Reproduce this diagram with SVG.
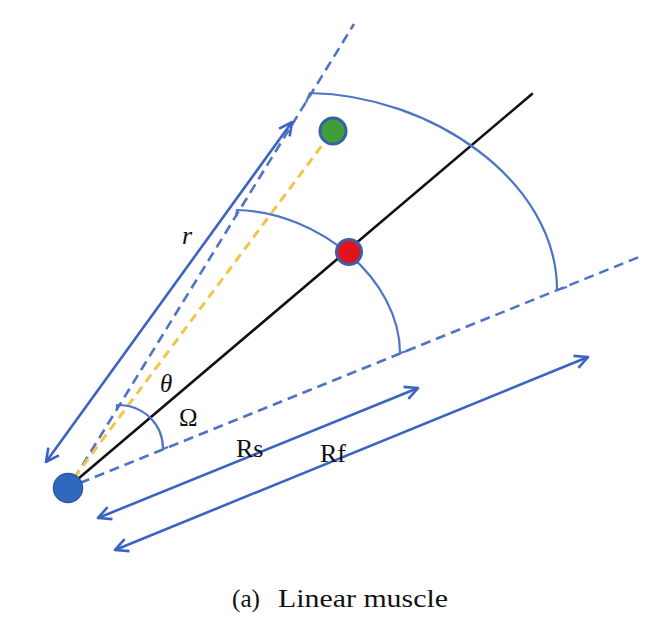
<svg xmlns="http://www.w3.org/2000/svg" width="654" height="637" viewBox="0 0 654 637">
<style>
.dash{fill:none;stroke:#4f74c6;stroke-width:2.6;stroke-dasharray:10 6;stroke-linecap:butt}
.ydash{fill:none;stroke:#f2c54a;stroke-width:3;stroke-dasharray:9 6}
.arc{fill:none;stroke:#4f74c6;stroke-width:2.2;stroke-linejoin:round}
.arrow{fill:none;stroke:#3b63c0;stroke-width:2.6;marker-start:url(#head);marker-end:url(#head)}
.lbl{fill:#111}
.pt{stroke:#3a5ea8;stroke-width:3}
</style>
<defs>
<marker id="head" viewBox="0 0 16 16" refX="14.5" refY="8" markerWidth="16" markerHeight="16" markerUnits="userSpaceOnUse" orient="auto-start-reverse">
<path d="M1.5,1.5 L14.5,8 L1.5,14.5" fill="none" stroke="#3b63c0" stroke-width="2.6" stroke-linejoin="miter"/>
</marker>
</defs>
<rect width="654" height="637" fill="#ffffff"/>
<g id="connectors">
<line class="dash" x1="74" y1="479" x2="354" y2="24"/>
<line class="dash" x1="80" y1="483" x2="639" y2="257"/>
<line class="ydash" x1="74" y1="478" x2="323" y2="144"/>
<line x1="72" y1="484" x2="532" y2="94" stroke="#111" stroke-width="2.6" stroke-linecap="round"/>
<path class="arc" d="M117,410 L117,405 C145,405 163,425 163,449 L168,447"/>
<path class="arc" d="M236,216.5 L237,210 C320,212 400,280 400,353 L407,351"/>
<path class="arc" d="M306,102.5 L310,93 C430,95 557,180 557,290 L567,287"/>
<line class="arrow" x1="292" y1="122" x2="46" y2="462"/>
<line class="arrow" x1="98" y1="518" x2="418" y2="388"/>
<line class="arrow" x1="115" y1="550" x2="588" y2="357"/>
</g>
<g id="origin"><circle cx="68" cy="488" r="14.5" fill="#2f68bd" stroke="#2a58a8" stroke-width="1.5"/></g>
<g id="red-point"><circle class="pt" cx="349" cy="252" r="12.5" fill="#e0141c"/></g>
<g id="green-point"><circle class="pt" cx="333" cy="131" r="13" fill="#3f9e37"/></g>
<g id="labels" font-family="'Liberation Serif', 'Times New Roman', serif">
<text class="lbl" x="182" y="244" font-size="26" font-style="italic">r</text>
<text class="lbl" x="160" y="392" font-size="25" font-style="italic">θ</text>
<text class="lbl" x="179" y="426" font-size="25">Ω</text>
<text class="lbl" x="236" y="457" font-size="26">Rs</text>
<text class="lbl" x="320" y="462" font-size="26">Rf</text>
<text class="lbl" x="232" y="607" font-size="26" textLength="28" lengthAdjust="spacingAndGlyphs">(a)</text>
<text class="lbl" x="278" y="607" font-size="26" textLength="170" lengthAdjust="spacingAndGlyphs">Linear muscle</text>
</g>
</svg>
